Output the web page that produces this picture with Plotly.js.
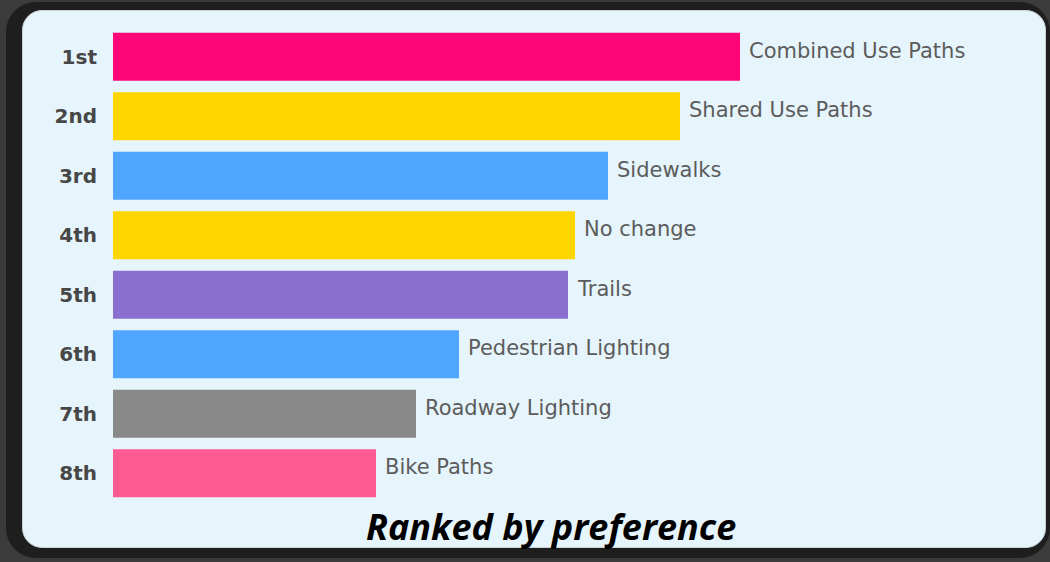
<!DOCTYPE html>
<html>
<head>
<meta charset="utf-8">
<script src="https://cdn.plot.ly/plotly-3.0.1.min.js"></script>
<style>
  html, body { margin:0; padding:0; width:1050px; height:562px; overflow:hidden; background:#3b3b3b; }
  #frame { position:absolute; left:6px; top:2px; width:1044px; height:556px; border-radius:30px; background:#1e1e1e; }
  #panel { position:absolute; left:22px; top:10px; width:1022px; height:536px; border-radius:20px; background:#e6f4fb; border:1px solid #c9d3d8; }
  #chart { position:absolute; left:0; top:0; width:1050px; height:562px; }
</style>
</head>
<body>
<div id="frame"></div>
<div id="panel"></div>
<div id="chart"></div>
<script>
const ranks = ["1st","2nd","3rd","4th","5th","6th","7th","8th"];
const options = ["Combined Use Paths","Shared Use Paths","Sidewalks","No change","Trails","Pedestrian Lighting","Roadway Lighting","Bike Paths"];
const scores = [627, 567, 495, 462, 455, 346, 303, 263];
const colors = ["#fe0677","#ffd500","#50a6ff","#ffd500","#8a6fd0","#50a6ff","#898989","#ff5b93"];
const titleText = "Ranked by preference";

const trace = {
  type: "bar",
  orientation: "h",
  y: ranks,
  x: scores,
  marker: { color: colors, line: { width: 0 } },
  hoverinfo: "skip"
};

const annotations = options.map((o, i) => ({
  x: scores[i], y: ranks[i], xref: "x", yref: "y",
  text: o, showarrow: false, xanchor: "left", yanchor: "middle",
  xshift: 7, yshift: 6,
  font: { family: "DejaVu Sans", size: 21, color: "#5c5c5c" }
}));
annotations.push({
  x: 0.487, y: -0.05, xref: "paper", yref: "paper",
  text: "<b><i>" + titleText + "</i></b>", showarrow: false,
  xanchor: "center", yanchor: "middle",
  font: { family: "Open Sans", size: 36, color: "#000000" }
});

const layout = {
  width: 1050, height: 562,
  margin: { l: 113, r: 37, t: 27, b: 59 },
  paper_bgcolor: "rgba(0,0,0,0)",
  plot_bgcolor: "rgba(0,0,0,0)",
  bargap: 0.19,
  showlegend: false,
  xaxis: { range: [0, 900], visible: false, fixedrange: true },
  yaxis: {
    autorange: "reversed", showgrid: false, zeroline: false, showline: false,
    ticks: "outside", ticklen: 11, tickcolor: "rgba(0,0,0,0)",
    tickfont: { family: "DejaVu Sans", size: 20, color: "#474747", weight: "bold" }
  },
  annotations: annotations
};

Plotly.newPlot("chart", [trace], layout, { displayModeBar: false, staticPlot: true });
</script>
</body>
</html>
